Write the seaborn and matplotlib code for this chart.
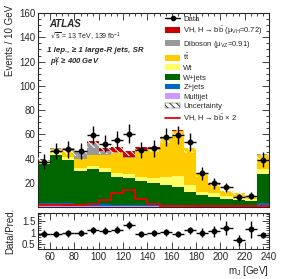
import numpy as np
import pandas as pd
import matplotlib
matplotlib.use("Agg")
import matplotlib.pyplot as plt
import seaborn as sns
from matplotlib.patches import Patch
from matplotlib.lines import Line2D
from matplotlib.ticker import MultipleLocator, FixedLocator

# bins of large-R jet mass [GeV]
edges = np.arange(50, 250, 10)
centers = edges[:-1] + 5

# background / signal yields per bin (events / 10 GeV)
multijet = [1.5, 1.5, 1.2, 1.0, 1.0, 1.0, 0.8, 0.8, 0.7, 0.7, 0.6, 0.6, 0.5, 0.4, 0.4, 0.3, 0.3, 0.3, 1.5]
zjets = [2.0, 2.0, 1.8, 1.5, 1.5, 1.3, 1.2, 1.0, 1.0, 0.9, 0.8, 0.7, 0.6, 0.5, 0.4, 0.4, 0.3, 0.3, 1.5]
wjets = [31.9, 39.8, 36.2, 27.1, 28.8, 26.7, 23.0, 21.8, 20.0, 17.9, 16.7, 15.4, 11.5, 8.9, 7.7, 6.3, 5.2, 4.6, 24.0]
wt = [1.1, 1.2, 1.7, 3.0, 2.4, 2.8, 3.3, 3.3, 3.3, 4.1, 6.9, 8.8, 5.4, 2.7, 2.7, 1.9, 2.2, 1.3, 4.0]
ttbar = [1.8, 3.0, 5.5, 7.0, 9.0, 11.5, 16.0, 13.5, 21.5, 24.5, 31.5, 37.0, 30.5, 15.0, 7.0, 4.3, 3.6, 1.5, 12.0]
diboson = [0.6, 0.8, 2.0, 6.5, 10.5, 3.0, 1.2, 0.8, 0.5, 0.5, 0.5, 0.4, 0.4, 0.3, 0.3, 0.2, 0.2, 0.1, 0.4]
vh = [0.3, 0.3, 0.4, 0.5, 1.0, 2.0, 3.8, 4.8, 2.5, 0.9, 0.4, 0.3, 0.2, 0.2, 0.1, 0.1, 0.1, 0.1, 0.2]
vh_x2 = [1.4, 1.4, 1.4, 1.4, 2.6, 5.8, 11.2, 14.0, 7.0, 2.5, 1.1, 1.0, 0.9, 0.8, 0.7, 0.6, 0.5, 0.5, 0.6]
rel_unc = [0.10, 0.10, 0.10, 0.10, 0.10, 0.09, 0.09, 0.08, 0.08, 0.08, 0.08, 0.08, 0.09, 0.11, 0.13, 0.16, 0.18, 0.20, 0.12]
data = [37.3, 46.2, 47.5, 46.0, 59.3, 52.4, 55.1, 60.6, 47.0, 48.3, 57.9, 59.3, 53.8, 27.7, 19.5, 16.2, 8.0, 9.3, 39.2]

processes = ["Multijet", "Z+jets", "W+jets", "Wt", "tt", "Diboson", "VH"]
colors = ["#cc99ff", "#0066cc", "#006600", "#ffff66", "#ffcc00", "#999999", "#cc0000"]
yields = [multijet, zjets, wjets, wt, ttbar, diboson, vh]

rows = []
for name, vals in zip(processes, yields):
    for c, v in zip(centers, vals):
        rows.append({"mJ": c, "events": v, "process": name})
df = pd.DataFrame(rows)

total = np.sum(np.array(yields), axis=0)
unc = total * np.array(rel_unc)
data = np.array(data)
data_err = np.sqrt(data)

sns.set_style("ticks")
plt.rcParams["font.family"] = ["Liberation Sans", "DejaVu Sans"]
plt.rcParams["mathtext.default"] = "regular"
plt.rcParams["hatch.linewidth"] = 0.7
plt.rcParams["hatch.color"] = "#333333"

fig = plt.figure(figsize=(2.91, 2.79), dpi=100)
ax = fig.add_axes([0.1306, 0.258, 0.7938, 0.695])
rax = fig.add_axes([0.1306, 0.1075, 0.7938, 0.130], sharex=ax)

# stacked backgrounds: draw cumulative sums from the top layer down
for i in reversed(range(len(processes))):
    sub = df[df["process"].isin(processes[:i + 1])]
    sns.histplot(data=sub, x="mJ", weights="events", binwidth=10, binrange=(50, 240),
                 stat="count", element="step", color=colors[i], alpha=1, linewidth=0, ax=ax)

ax.bar(centers, 2 * unc, width=10, bottom=total - unc, fill=False, hatch="\\\\\\\\\\",
       linewidth=0, zorder=3)
ax.stairs(vh_x2, edges, color="#ee0000", linewidth=1.3, zorder=4)
ax.errorbar(centers, data, xerr=5, yerr=data_err, fmt="o", color="black",
            markersize=3.2, elinewidth=1, capsize=0, zorder=5)

ax.set_xlim(50, 240)
ax.set_ylim(0, 160)
ax.set_xlabel("")
ax.set_ylabel("Events / 10 GeV", fontsize=7, loc="top")
ax.yaxis.set_major_locator(FixedLocator([20, 40, 60, 80, 100, 120, 140, 160]))
ax.yaxis.set_minor_locator(MultipleLocator(5))
ax.xaxis.set_major_locator(MultipleLocator(20))
ax.xaxis.set_minor_locator(MultipleLocator(5))
ax.tick_params(labelbottom=False)

# ratio panel
ratio = data / total
ratio_err = data_err / total
rax.bar(centers, 2 * np.array(rel_unc), width=10, bottom=1 - np.array(rel_unc), fill=False,
        hatch="\\\\\\\\\\", linewidth=0, zorder=2)
rax.errorbar(centers, ratio, xerr=5, yerr=ratio_err, fmt="o", color="black",
             markersize=3.2, elinewidth=1, capsize=0, zorder=5)
rax.set_ylim(0.3, 1.85)
rax.set_yticks([0.5, 1, 1.5])
rax.set_yticklabels(["0.5", "1", "1.5"])
rax.yaxis.set_minor_locator(MultipleLocator(0.1))
rax.set_ylabel("Data/Pred.", fontsize=7)
rax.set_xlabel("m$_{J}$ [GeV]", fontsize=7)
rax.xaxis.set_major_locator(MultipleLocator(20))
rax.xaxis.set_minor_locator(MultipleLocator(5))

for a in (ax, rax):
    for s in a.spines.values():
        s.set_linewidth(0.8)
    a.tick_params(which="both", direction="in", top=True, right=True, labelsize=7, pad=2)
    a.tick_params(which="major", length=5, width=0.6)
    a.tick_params(which="minor", length=2.5, width=0.6)
ax.yaxis.set_label_coords(-0.1, 1.04)
rax.yaxis.set_label_coords(-0.1, 0.5)
rax.xaxis.set_label_coords(1.0, -0.42)
rax.xaxis.label.set_horizontalalignment("right")

ax.text(0.05, 0.93, "ATLAS", transform=ax.transAxes, fontsize=7, fontweight="bold",
        style="italic")
ax.text(0.05, 0.865, r"$\sqrt{s}$ = 13 TeV, 139 fb$^{-1}$", transform=ax.transAxes, fontsize=5)
ax.text(0.04, 0.80, "1 lep., \u2265 1 large-R jets, SR", transform=ax.transAxes, fontsize=5.7,
        fontweight="bold", style="italic")
ax.text(0.05, 0.735, "$p_{T}^{V}$ \u2265 400 GeV", transform=ax.transAxes,
        fontsize=5.5, fontweight="bold", style="italic")

handles = [
    Line2D([], [], color="black", marker="o", markersize=3, linewidth=1),
    Patch(facecolor=colors[6], edgecolor="none"),
    Patch(facecolor=colors[5], edgecolor="none"),
    Patch(facecolor=colors[4], edgecolor="none"),
    Patch(facecolor=colors[3], edgecolor="none"),
    Patch(facecolor=colors[2], edgecolor="none"),
    Patch(facecolor=colors[1], edgecolor="none"),
    Patch(facecolor=colors[0], edgecolor="none"),
    Patch(facecolor="white", edgecolor="#333333", linewidth=0.3, hatch="\\\\\\\\\\"),
    Line2D([], [], color="#ee0000", linewidth=1.3),
]
labels = [
    "Data",
    r"VH, H$\rightarrow$b$\bar{b}$ ($\mu_{VH}$=0.72)",
    r"Diboson ($\mu_{VZ}$=0.91)",
    r"t$\bar{t}$",
    "Wt",
    "W+jets",
    "Z+jets",
    "Multijet",
    "Uncertainty",
    r"VH, H$\rightarrow$b$\bar{b}$ $\times$ 2",
]
ax.legend(handles, labels, loc="upper left", bbox_to_anchor=(0.55, 0.99), frameon=False,
          fontsize=5.5, handlelength=2.0, handleheight=0.8, handletextpad=0.4,
          labelspacing=0.26, borderpad=0, borderaxespad=0)

fig.savefig("out.png", dpi=100)
